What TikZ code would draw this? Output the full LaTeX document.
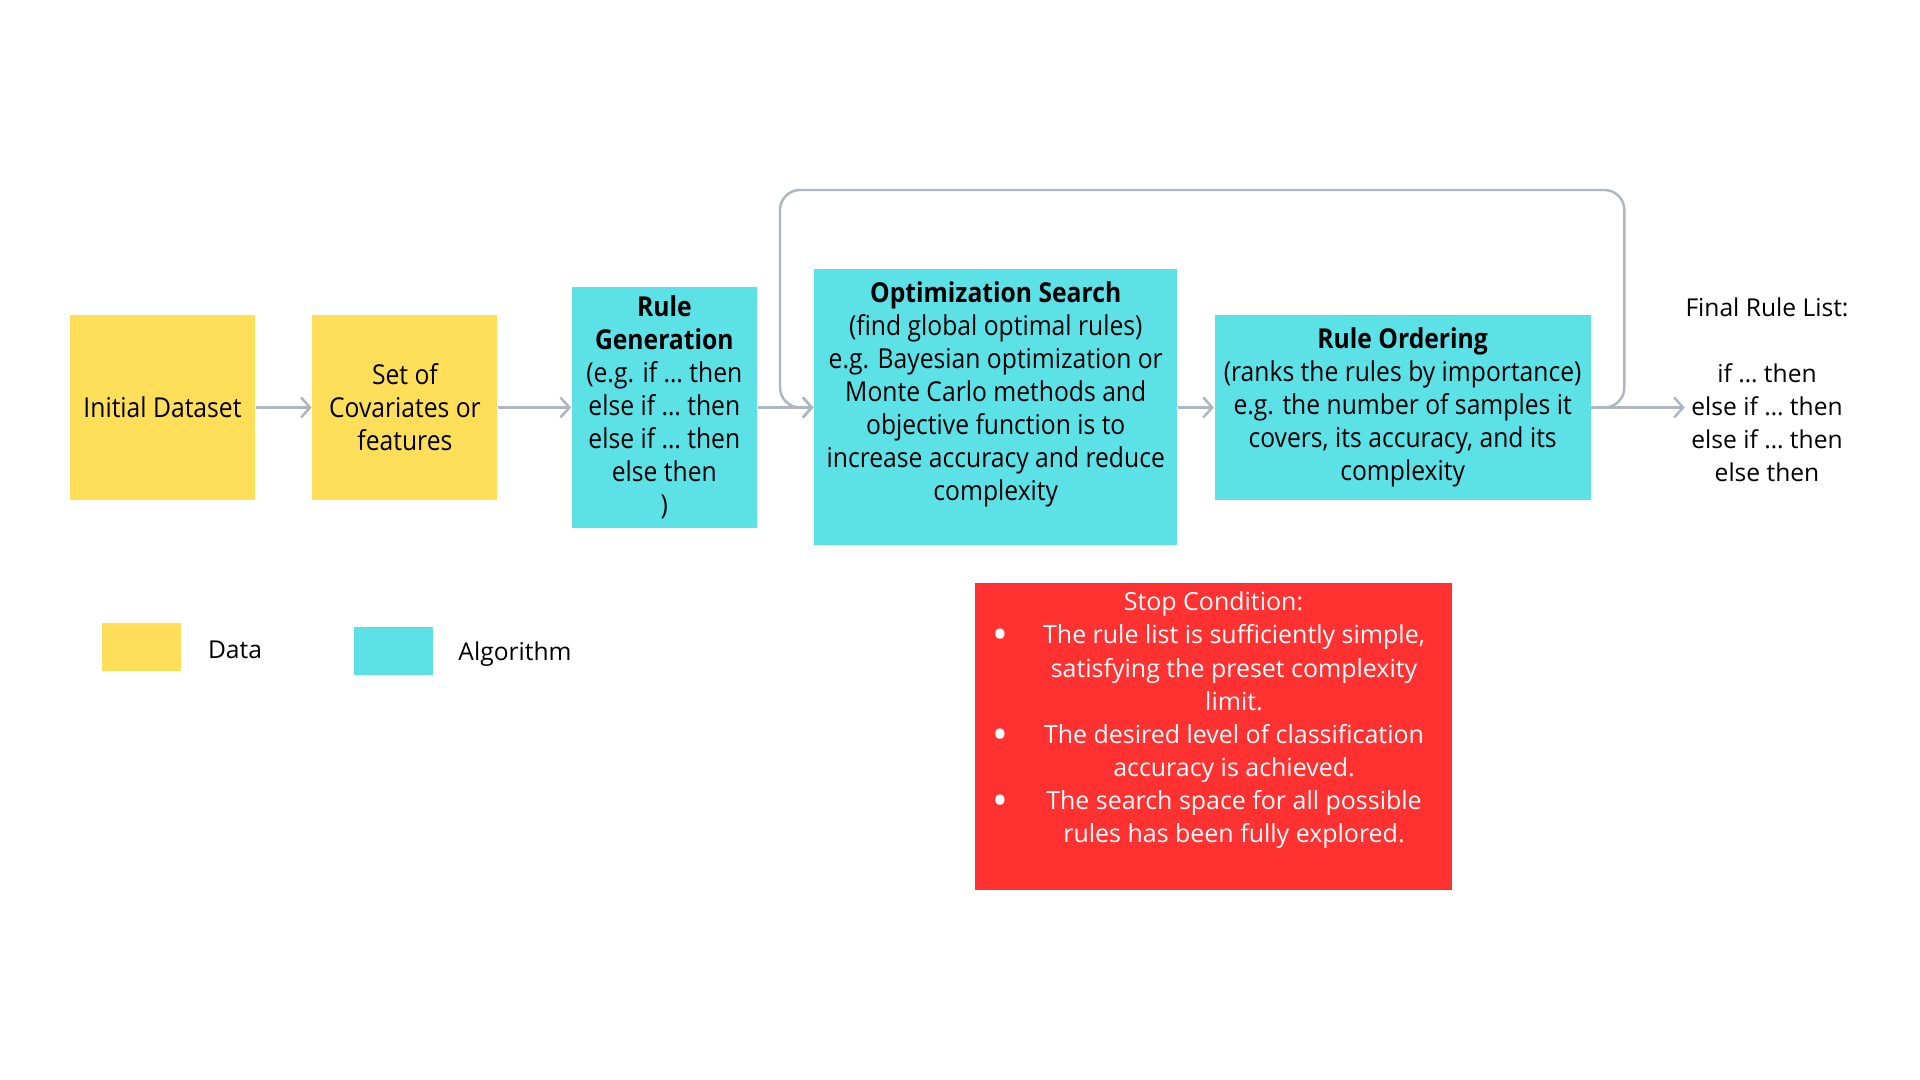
\documentclass[tikz,border=0pt]{standalone}
\usepackage{fontspec}
\usepackage{array}
\setmainfont{Open Sans}
\newfontfamily\narrowfont[FakeStretch=0.9]{Open Sans}
\usetikzlibrary{positioning,arrows.meta,calc}

\definecolor{datayellow}{HTML}{FFDE59}
\definecolor{algocyan}{HTML}{5CE1E6}
\definecolor{stopred}{HTML}{FF3131}
\definecolor{flowgray}{HTML}{AEB6BF}

\newcommand{\stopbullet}{\raisebox{-1.7pt}{\fontsize{12}{9.4}\selectfont\textbullet}}

\begin{document}
\begin{tikzpicture}[
every node/.style={font=\fontsize{7}{9.4}\selectfont, inner sep=0pt},
databox/.style={fill=datayellow, minimum width=1.85cm, minimum height=1.85cm, align=center, font=\narrowfont\fontsize{7.8}{9.4}\selectfont},
algobox/.style={fill=algocyan, minimum height=1.85cm, align=center, font=\narrowfont\fontsize{7.8}{9.4}\selectfont},
stopbox/.style={fill=stopred, text=white, minimum width=4.77cm, minimum height=3.07cm, font=\fontsize{7.1}{9.4}\selectfont},
keybox/.style={minimum width=0.79cm, minimum height=0.48cm},
flow/.style={draw=flowgray, line width=0.7pt, -{Straight Barb[length=0.9mm, width=2mm]}}
]

    % Canvas
    \useasboundingbox (0,0) rectangle (19.2,10.8);
    \fill[white] (0,0) rectangle (19.2,10.8);

    % Data boxes
    \node[databox] (init) at (1.625,6.725) {Initial Dataset};
    \node[databox, right=0.56cm of init] (feat) {Set of\\Covariates or\\features};

    % Algorithm boxes
    \node[algobox, minimum width=1.85cm, minimum height=2.41cm, right=0.73cm of feat] (gen)
    {\textbf{Rule}\\\textbf{Generation}\\(e.g. if … then\\else if … then\\else if … then\\else then\\)};
    \node[algobox, minimum width=3.63cm, minimum height=2.76cm, right=0.56cm of gen] (opt)
    {\textbf{Optimization Search}\\(find global optimal rules)\\e.g. Bayesian optimization or\\Monte Carlo methods and\\objective function is to\\increase accuracy and reduce\\complexity\\\mbox{}};
    \node[algobox, minimum width=3.76cm, right=0.36cm of opt] (ord)
    {\textbf{Rule Ordering}\\(ranks the rules by importance)\\e.g. the number of samples it\\covers, its accuracy, and its\\complexity};

    % Result
    \node[align=center] (final) at (17.67,6.90)
    {Final Rule List:\\\mbox{}\\if … then\\else if … then\\else if … then\\else then};

    % Flow
    \draw[flow] (init) -- (feat);
    \draw[flow] (feat) -- (gen);
    \draw[flow] (gen) -- (opt);
    \draw[flow] (opt) -- (ord);
    \draw[flow] (ord.east) -- (final.west |- ord.east);

    % Feedback loop
    \draw[flow, rounded corners=0.2cm] (ord.east) -- ++(0.33,0) |- (7.80,8.90) |- (opt.west);

    % Stop condition
    \node[stopbox] (stop) at (12.135,3.435)
    {\begin{tabular}{@{}>{\centering\arraybackslash}p{0.5cm}@{}>{\centering\arraybackslash}p{4.18cm}@{\hspace{0.09cm}}}
    \multicolumn{2}{c}{Stop Condition:}\\
    \stopbullet & The rule list is sufficiently simple,\\
     & satisfying the preset complexity\\
     & limit.\\
    \stopbullet & The desired level of classification\\
     & accuracy is achieved.\\
    \stopbullet & The search space for all possible\\
     & rules has been fully explored.\\
    \mbox{} &
    \end{tabular}};

    % Legend
    \node[keybox, fill=datayellow] (keydata) at (1.415,4.33) {};
    \node (keydatatext) at (2.35,4.30) {Data};
    \node[keybox, fill=algocyan] (keyalgo) at (3.935,4.29) {};
    \node (keyalgotext) at (5.15,4.26) {Algorithm};

\end{tikzpicture}
\end{document}
